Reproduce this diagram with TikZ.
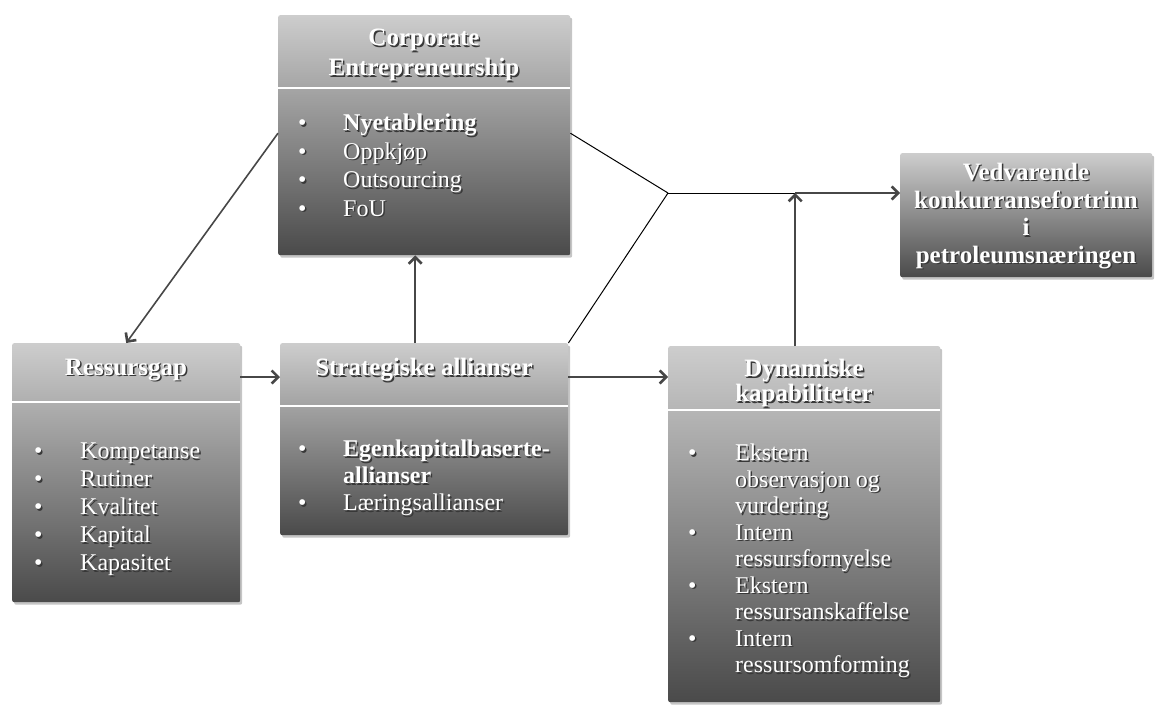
\documentclass[tikz,border=0pt]{standalone}
\usepackage{fontspec}
\setmainfont{Liberation Serif}
\usetikzlibrary{arrows.meta,shadows,calc}

\definecolor{boxtop}{HTML}{CDCDCD}
\definecolor{boxbot}{HTML}{4A4A4A}
\definecolor{txtshadow}{HTML}{383838}
\definecolor{linkc}{HTML}{474747}

% white text with a dark offset copy underneath
\newcommand\embossed[4]{%
  \node[#1, text=txtshadow] (#2-sh) at ($(#3)+(1.5,1.5)$) {#4};
  \node[#1, text=white] (#2) at (#3) {#4};}

\tikzset{
  panel/.style={anchor=north west, inner sep=0pt, shade, top color=boxtop,
    bottom color=boxbot, rounded corners=2pt,
    drop shadow={shadow xshift=2pt, shadow yshift=-2.5pt, opacity=0.45}},
  divider/.style={draw=white, line width=1.6pt},
  title/.style={inner sep=0pt, align=center, font=\fontsize{25}{#1}\selectfont\bfseries},
  title/.default=30,
  items/.style={inner sep=0pt, anchor=base west, font=\fontsize{24}{#1}\selectfont},
  link/.style={draw=linkc, line width=1.6pt,
    -{Straight Barb[length=6.5pt,width=13pt,line width=2.6pt]}},
  joinline/.style={draw=black, line width=1pt},
}

\begin{document}
\begin{tikzpicture}[x=1pt, y=-1pt]
\useasboundingbox (0,0) rectangle (1159,704);
\fill[white] (0,0) rectangle (1159,704);

% boxes
\node[panel, minimum width=292pt, minimum height=240pt] (corp) at (278,15) {};
\node[panel, minimum width=228pt, minimum height=259pt] (gap) at (12,343) {};
\node[panel, minimum width=288pt, minimum height=192pt] (strat) at (280,343) {};
\node[panel, minimum width=272pt, minimum height=356pt] (dyn) at (668,346) {};
\node[panel, minimum width=252pt, minimum height=124pt] (ved) at (900,153) {};

% header dividers
\draw[divider] ([yshift=-73pt]corp.north west) -- ([yshift=-73pt]corp.north east);
\draw[divider] ([yshift=-59pt]gap.north west) -- ([yshift=-59pt]gap.north east);
\draw[divider] ([yshift=-63pt]strat.north west) -- ([yshift=-63pt]strat.north east);
\draw[divider] ([yshift=-64pt]dyn.north west) -- ([yshift=-64pt]dyn.north east);

% titles
\embossed{title}{corpT}{424,55}{Corporate\\Entrepreneurship}
\embossed{title}{gapT}{126,370}{Ressursgap}
\embossed{title}{stratT}{424,370}{Strategiske allianser}
\embossed{title=25}{dynT}{804,383}{Dynamiske\\kapabiliteter}
\embossed{title=27.7}{vedT}{1026,216}{Vedvarende\\konkurransefortrinn\\i\\petroleumsnæringen}

% bullet lists
\embossed{items=28.5}{corpL}{298,130.5}{\begin{tabular}[t]{@{}p{45pt}@{}l@{}}
\textbullet & \textbf{Nyetablering}\\
\textbullet & Oppkjøp\\
\textbullet & Outsourcing\\
\textbullet & FoU
\end{tabular}}

\embossed{items=28}{gapL}{34,458.5}{\begin{tabular}[t]{@{}p{46pt}@{}l@{}}
\textbullet & Kompetanse\\
\textbullet & Rutiner\\
\textbullet & Kvalitet\\
\textbullet & Kapital\\
\textbullet & Kapasitet
\end{tabular}}

\embossed{items=27}{stratL}{298,456.5}{\begin{tabular}[t]{@{}p{45pt}@{}l@{}}
\textbullet & \textbf{Egenkapitalbaserte-}\\
 & \textbf{allianser}\\
\textbullet & Læringsallianser
\end{tabular}}

\embossed{items=26.5}{dynL}{688,460.5}{\begin{tabular}[t]{@{}p{47pt}@{}l@{}}
\textbullet & Ekstern\\
 & observasjon og\\
 & vurdering\\
\textbullet & Intern\\
 & ressursfornyelse\\
\textbullet & Ekstern\\
 & ressursanskaffelse\\
\textbullet & Intern\\
 & ressursomforming
\end{tabular}}

% connectors
\coordinate (hub) at (668,193);
\coordinate (gapOut) at ([yshift=-34pt]gap.north east);
\coordinate (stratOut) at ([yshift=-34pt]strat.north east);
\coordinate (dynUp) at ([xshift=-9pt]dyn.north);

\draw[link] ([yshift=2pt]corp.west) -- (gap.north);
\draw[link] (gapOut) -- (gapOut -| strat.west);
\draw[link] ([xshift=-9pt]strat.north) -- ([xshift=-9pt]corp.south);
\draw[link] (stratOut) -- (stratOut -| dyn.west);
\draw[joinline] ([yshift=2pt]corp.east) -- (hub);
\draw[joinline] (strat.north east) -- (hub);
\draw[joinline] (hub) -- (dynUp |- hub);
\draw[link] (dynUp |- hub) -- (hub -| ved.west);
\draw[link] (dynUp) -- (dynUp |- hub);
\end{tikzpicture}
\end{document}
